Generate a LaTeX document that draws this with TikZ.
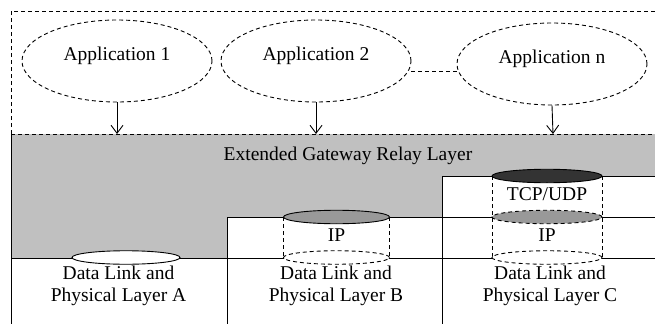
\documentclass[tikz,border=0pt]{standalone}
\usepackage{fontspec}
\setmainfont{Liberation Serif}
\usetikzlibrary{shapes.geometric,arrows.meta}
\definecolor{layergray}{HTML}{C0C0C0}
\definecolor{midgray}{HTML}{999999}
\definecolor{darkcap}{HTML}{333333}
\begin{document}
\begin{tikzpicture}[x=1pt,y=-1pt,line width=0.9pt,
  dsh/.style={dash pattern=on 4pt off 3pt},
  app/.style={ellipse,draw,dsh,minimum width=190pt,minimum height=82pt,inner sep=0pt},
  lbl/.style={font=\fontsize{19.5}{22.5}\selectfont,inner sep=0pt,align=center},
  cap/.style={ellipse,minimum width=#1,minimum height=13.5pt,inner sep=0pt},
  arr/.style={-{Straight Barb[length=8pt,width=12pt]}}]
\useasboundingbox (0,0) rectangle (655,324);
% gray relay layer
\fill[layergray] (11,134) -- (655,134) -- (655,176) -- (442,176) -- (442,217)
  -- (227,217) -- (227,258) -- (11,258) -- cycle;
% solid outlines
\draw (11,134) -- (11,324);
\draw (11,258) -- (655,258);
\draw (227,217) -- (655,217);
\draw (442,176) -- (655,176);
\draw (227,217) -- (227,324);
\draw (442,176) -- (442,324);
% outer dashed box
\draw[dsh] (11,134) -- (11,11) -- (655,11);
\draw[dsh] (11,134) -- (655,134);
% application ellipses
\node[app] (a1) at (117,61) {};
\node[app] (a2) at (316,61) {};
\node[app] (an) at (552,64) {};
\node[lbl] (t1) at (117,56) {Application 1};
\node[lbl] (t2) at (316,56) {Application 2};
\node[lbl] (tn) at (552,59) {Application n};
\draw[dsh] (a2.east |- 0,71) -- (an.west |- 0,71);
\coordinate (r1) at (117,134);
\coordinate (r2) at (316,134);
\coordinate (rn) at (553,134);
\draw[arr] (a1.south) -- (r1);
\draw[arr] (a2.south) -- (r2);
\draw[arr] (an.south) -- (rn);
% layer A cap
\node[cap=108pt,draw,fill=white] (capA) at (126,257.5) {};
% cylinder B
\draw[dsh] (283.5,217) -- (283.5,257.5);
\draw[dsh] (389.5,217) -- (389.5,257.5);
\node[cap=106pt,draw,dsh,fill=white] (botB) at (336.5,257.5) {};
\node[cap=106pt,draw,fill=midgray] (topB) at (336.5,217) {};
% cylinder C
\draw[dsh] (492,176) -- (492,257.5);
\draw[dsh] (602,176) -- (602,257.5);
\node[cap=110pt,draw,dsh,fill=white] (botC) at (547,257.5) {};
\node[cap=110pt,draw,dsh,fill=midgray] (midC) at (547,217) {};
\node[cap=110pt,draw,fill=darkcap] (topC) at (547,176) {};
% labels
\node[lbl] (ext) at (348,156) {Extended Gateway Relay Layer};
\node[lbl] (tcp) at (547,194) {TCP/UDP};
\node[lbl] (ipB) at (336.5,235) {IP};
\node[lbl] (ipC) at (547,235) {IP};
\node[lbl] (dlA) at (118.5,286) {Data Link and\\Physical Layer A};
\node[lbl] (dlB) at (336,286) {Data Link and\\Physical Layer B};
\node[lbl] (dlC) at (550,286) {Data Link and\\Physical Layer C};
\end{tikzpicture}
\end{document}
